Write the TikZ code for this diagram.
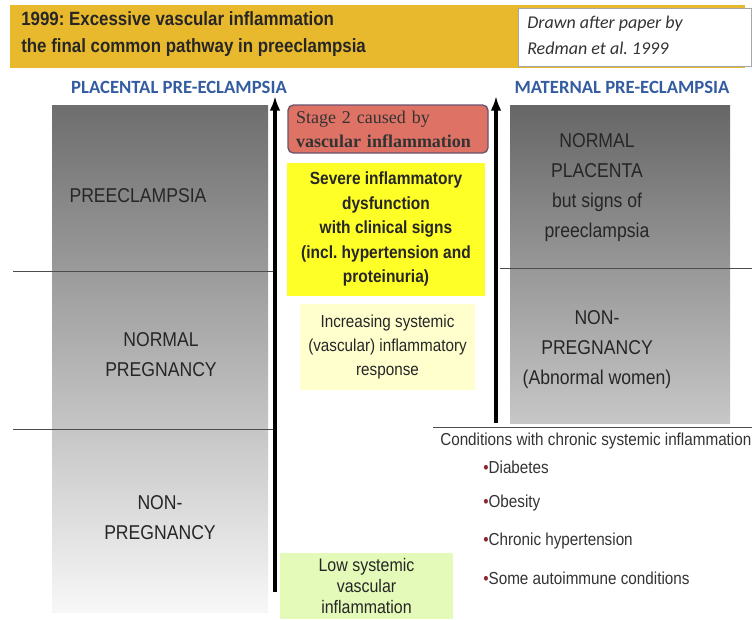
\documentclass[tikz,border=0pt]{standalone}
\usepackage{fontspec}
\setmainfont[FakeStretch=0.88]{Liberation Sans}
\newfontfamily\timesface{Liberation Serif}
\newfontfamily\calface{Carlito}
\usetikzlibrary{arrows.meta}
\definecolor{titlegold}{RGB}{233,185,45}
\definecolor{headblue}{RGB}{52,92,160}
\definecolor{stagered}{RGB}{222,114,100}
\definecolor{stageedge}{RGB}{104,82,110}
\definecolor{severeyellow}{RGB}{255,255,40}
\definecolor{paleyellow}{RGB}{255,255,206}
\definecolor{lowgreen}{RGB}{228,250,185}
\definecolor{bulletred}{RGB}{140,40,50}
\frenchspacing
\begin{document}
\begin{tikzpicture}[x=.75pt, y=-.75pt,
    >={Latex[length=11pt,width=8pt]},
    lbl/.style={align=center, inner sep=0pt, text=black!85,
        font=\fontsize{15}{22.5}\selectfont},
    head/.style={inner sep=0pt, text=headblue,
        font=\calface\bfseries\fontsize{14}{16}\selectfont},
    boxtext/.style={align=center, inner sep=0pt, text=black!85},
    item/.style={anchor=west, inner sep=0pt, text=black!80,
        font=\fontsize{13}{15}\selectfont}]
    \useasboundingbox (0,0) rectangle (752,619);

    % title bar
        \fill[titlegold] (10,5) rectangle (745,68);
        \filldraw[fill=white, draw=black!35] (518,8) rectangle (751.5,66);
    \node[anchor=west, align=left, inner sep=0pt, text=black!85,
        font=\bfseries\fontsize{14.4}{20.25}\selectfont] (title) at (21,34)
        {1999: Excessive vascular inflammation\\the final common pathway in preeclampsia};
    \node[anchor=west, align=left, inner sep=0pt, text=black!80,
        font=\calface\itshape\fontsize{13.5}{19.5}\selectfont] (after) at (527,35)
        {Drawn after paper by\\Redman et al. 1999};

    \node[head] (placental) at (179,87){PLACENTAL PRE-ECLAMPSIA};
    \node[head] (maternal) at (622,87){MATERNAL PRE-ECLAMPSIA};

    % grey panels
        \shade[top color=black!57, middle color=black!33, bottom color=black!3]
            (52,105) rectangle (268,612);
        \shade[top color=black!60, bottom color=black!22]
            (510,105) rectangle (730,423);

    \draw[black!70] (13,271) to (275,271);
    \draw[black!70] (13,429) to (275,429);
    \draw[black!70] (500,268) to (752,268);
    \draw[black!70] (433,427) to (752,427);

    \node[lbl] (preec) at (138,196){PREECLAMPSIA};
    \node[lbl] (normal) at (161,355){NORMAL\\PREGNANCY};
    \node[lbl] (nonpreg) at (160,518){NON-\\PREGNANCY};

    \node[lbl] (placenta) at (597,188){NORMAL\\PLACENTA\\but signs of\\preeclampsia};
    \node[lbl] (abnormal) at (597,350){NON-\\PREGNANCY\\(Abnormal women)};

    % arrows
    \coordinate (lbot) at (275,592);
    \coordinate (ltop) at (275,96);
    \coordinate (rbot) at (496,423);
    \coordinate (rtop) at (496,96);
        \draw[->, line width = .8mm](lbot) to (ltop);
        \draw[->, line width = .8mm](rbot) to (rtop);

    % boxes in the middle
    \node[draw=stageedge, fill=stagered, line width=1pt, rounded corners=4pt,
        minimum width=150pt, minimum height=36pt, text width=138pt,
        align=left, inner sep=0pt, text=black!80,
        font=\timesface\fontsize{13.5}{18}\selectfont] (stage) at (388,129)
        {Stage 2 caused by\\\textbf{vascular inflammation}};
    \node[boxtext, fill=severeyellow, minimum width=148.5pt, minimum height=99.75pt,
        font=\bfseries\fontsize{13.2}{18.4}\selectfont] (severe) at (386,229)
        {Severe inflammatory\\dysfunction\\with clinical signs\\(incl. hypertension and\\proteinuria)};
    \node[boxtext, fill=paleyellow, minimum width=131.25pt, minimum height=64.5pt,
        font=\fontsize{13}{18}\selectfont] (increasing) at (387.5,347)
        {Increasing systemic\\(vascular) inflammatory\\response};
    \node[boxtext, fill=lowgreen, minimum width=130pt, minimum height=50pt,
        font=\fontsize{13.6}{15.4}\selectfont] (low) at (366.5,586)
        {Low systemic\\vascular\\inflammation};

    % conditions
    \node[item] (conditions) at (440,441){Conditions with chronic systemic inflammation};
    \node[item] (diabetes) at (483,467){{\color{bulletred}\textbullet}Diabetes};
    \node[item] (obesity) at (483,503){{\color{bulletred}\textbullet}Obesity};
    \node[item] (hyper) at (483,541){{\color{bulletred}\textbullet}Chronic hypertension};
    \node[item] (auto) at (483,578){{\color{bulletred}\textbullet}Some autoimmune conditions};
\end{tikzpicture}
\end{document}
